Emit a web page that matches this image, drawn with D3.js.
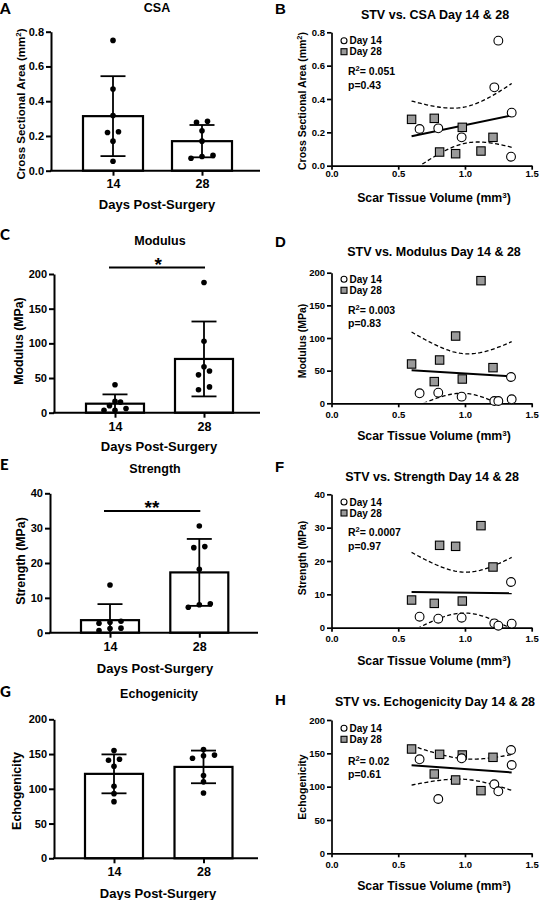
<!DOCTYPE html>
<html><head><meta charset="utf-8">
<script src="https://cdn.jsdelivr.net/npm/d3@7"></script>
<style>
body{margin:0;background:#fff;}
svg text{font-family:"Liberation Sans",Arial,sans-serif;font-weight:bold;fill:#000;}
</style></head><body>
<svg id="c" width="542" height="900"></svg>
<script>
// ---------------- DATA ----------------
const categories = ["14", "28"];
const stvDay14 = [0.66, 0.80, 0.975, 1.22, 1.25, 1.345, 1.35];
const stvDay28 = [0.60, 0.77, 0.81, 0.93, 0.98, 1.12, 1.21];
const csaDay14 = [0.22, 0.224, 0.17, 0.47, 0.75, 0.054, 0.318];
const csaDay28 = [0.278, 0.284, 0.082, 0.072, 0.23, 0.088, 0.17];
const modulusDay14 = [15.3, 16.3, 10.2, 3.5, 3.5, 40.3, 6.1];
const modulusDay28 = [60.2, 33.2, 66.3, 103, 37.2, 187.8, 54.6];
const strengthDay14 = [3.3, 2.7, 3.0, 1.3, 0.6, 13.7, 1.2];
const strengthDay28 = [8.3, 7.3, 24.7, 24.4, 8.0, 30.6, 18.2];
const echoDay14 = [141, 81.5, 142.5, 103.5, 93, 155, 132.5];
const echoDay28 = [156.5, 119, 148.5, 110, 147.5, 94, 144];
const csaMean = [0.314, 0.17], csaSD = [0.23, 0.093];
const modulusMean = [13, 77.5], modulusSD = [13.4, 54];
const strengthMean = [3.6, 17.3], strengthSD = [4.6, 9.6];
const echoMean = [121.5, 131.5], echoSD = [28, 23.5];
const csaTicks = [0, 0.2, 0.4, 0.6, 0.8];
const modulusTicks = [0, 50, 100, 150, 200];
const strengthTicks = [0, 10, 20, 30, 40];
const echoTicks = [0, 50, 100, 150, 200];
const stvTicks = [0, 0.5, 1.0, 1.5];
const r2Labels = ["0.051", "0.003", "0.0007", "0.02"];
const pLabels = ["0.43", "0.83", "0.97", "0.61"];
const legendLabels = ["Day 14", "Day 28"];
const sigLabels = ["*", "**"];
const T_CRIT = 2.179; // t(0.975, df=12)

// ---------------- DRAW ----------------
const svg = d3.select("#c");
const f1 = d3.format(".1f"), fd = d3.format("d");

function supText(sel, parts, supSize) {
  sel.append("tspan").text(parts[0]);
  sel.append("tspan").attr("dy", -4).style("font-size", supSize + "px").text(parts[1]);
  sel.append("tspan").attr("dy", 4).text(parts[2]);
}

function styleAxis(g, fs, sw) {
  g.selectAll("path,line").attr("stroke", "#000").attr("stroke-width", sw);
  g.selectAll("text").style("font-size", fs + "px").attr("fill", "#000");
}

function barPanel(o) {
  const g = svg.append("g");
  const y = d3.scaleLinear().domain([o.ticks[0], o.ticks[o.ticks.length - 1]]).range([o.yBot, o.yTop]);
  const x = d3.scalePoint().domain(categories).range(o.centers);

  g.selectAll("rect.bar").data(o.means).join("rect")
    .attr("x", (d, i) => x(categories[i]) - o.barW / 2)
    .attr("y", d => y(d)).attr("width", o.barW).attr("height", d => y(0) - y(d))
    .attr("fill", "#fff").attr("stroke", "#000").attr("stroke-width", 2.2);

  o.means.forEach((m, i) => {
    const cx = x(categories[i]);
    const top = m + o.sds[i], bot = m - o.sds[i];
    const yb = bot < 0 ? y(0) : y(bot);
    g.append("line").attr("x1", cx).attr("x2", cx).attr("y1", y(top)).attr("y2", yb)
      .attr("stroke", "#000").attr("stroke-width", 1.8);
    g.append("line").attr("x1", cx - 12.5).attr("x2", cx + 12.5).attr("y1", y(top)).attr("y2", y(top))
      .attr("stroke", "#000").attr("stroke-width", 1.8);
    if (bot >= 0) g.append("line").attr("x1", cx - 12.5).attr("x2", cx + 12.5).attr("y1", y(bot)).attr("y2", y(bot))
      .attr("stroke", "#000").attr("stroke-width", 1.8);
  });

  [o.d14, o.d28].forEach((vals, i) => {
    const cx = x(categories[i]);
    const pts = vals.map(v => ({ v, py: y(v) })).sort((a, b) => b.py - a.py);
    const rows = [];
    pts.forEach(p => {
      const r = rows[rows.length - 1];
      if (!r || Math.abs(p.py - r[0].py) >= 4) rows.push([p]); else r.push(p);
    });
    rows.forEach(r => r.forEach((p, k) => { p.px = cx + (k - (r.length - 1) / 2) * 11; }));
    g.selectAll(null).data(pts).join("circle")
      .attr("cx", d => d.px).attr("cy", d => d.py).attr("r", 2.8).attr("fill", "#000");
  });

  const ya = g.append("g").attr("transform", `translate(${o.axisX},0)`)
    .call(d3.axisLeft(y).tickValues(o.ticks).tickFormat(o.fmt).tickSize(5).tickSizeOuter(0).tickPadding(2));
  styleAxis(ya, 11, 2);
  const xa = g.append("g").attr("transform", `translate(0,${o.yBot})`)
    .call(d3.axisBottom(x).tickSize(5).tickPadding(3));
  xa.select(".domain").remove();
  styleAxis(xa, 12.5, 2);
  xa.selectAll("text").attr("y", null).attr("dy", null).attr("transform", `translate(0,${o.xTickY - o.yBot})`);
  g.append("line").attr("x1", o.axisX - 1).attr("x2", o.xEnd).attr("y1", o.yBot).attr("y2", o.yBot)
    .attr("stroke", "#000").attr("stroke-width", 2);

  if (o.sig != null) {
    g.append("line").attr("x1", x(categories[0]) - 6).attr("x2", x(categories[1]) + 1)
      .attr("y1", o.sigY).attr("y2", o.sigY).attr("stroke", "#000").attr("stroke-width", 2);
    g.append("text").attr("x", o.sigX).attr("y", o.sigY + 3).attr("text-anchor", "middle")
      .style("font-size", "19px").text(sigLabels[o.sig]);
  }

  g.append("text").attr("x", 0).attr("y", o.letterY).style("font-family", "Lato").style("font-weight", 900)
    .style("font-size", "15px").text(o.letter);
  g.append("text").attr("x", o.titleX).attr("y", o.titleY).attr("text-anchor", "middle")
    .style("font-size", "12.5px").text(o.title);
  g.append("text").attr("x", o.xTitleX).attr("y", o.xTitleY).attr("text-anchor", "middle")
    .style("font-size", "13px").text("Days Post-Surgery");
  const yt = g.append("text").attr("transform", `translate(${o.yTitleX},${o.yTitleY}) rotate(-90)`)
    .attr("text-anchor", "middle").style("font-size", o.yTitleSize + "px");
  if (o.yTitle.length === 3) supText(yt, o.yTitle, 8); else yt.text(o.yTitle[0]);
}

function scatterPanel(o) {
  const g = svg.append("g");
  const x = d3.scaleLinear().domain([0, 1.5]).range([o.axisX, 531.7]);
  const y = d3.scaleLinear().domain([o.ticks[0], o.ticks[o.ticks.length - 1]]).range([o.yBot, o.yTop]);
  const xs = stvDay14.concat(stvDay28), ys = o.y14.concat(o.y28);
  const n = xs.length, mx = d3.mean(xs), my = d3.mean(ys);
  const sxx = d3.sum(xs, v => (v - mx) ** 2);
  const sxy = d3.sum(xs, (v, i) => (v - mx) * (ys[i] - my));
  const b = sxy / sxx, a = my - b * mx;
  const s = Math.sqrt(d3.sum(xs, (v, i) => (ys[i] - (a + b * v)) ** 2) / (n - 2));
  const [xmin, xmax] = d3.extent(xs);
  const samp = d3.range(0, 61).map(k => xmin + (xmax - xmin) * k / 60);
  const band = (sign) => samp.map(v => [v, a + b * v + sign * T_CRIT * s * Math.sqrt(1 / n + (v - mx) ** 2 / sxx)]);

  const cid = "clip" + o.letter;
  svg.append("clipPath").attr("id", cid).append("rect")
    .attr("x", o.axisX).attr("y", o.yTop - 2).attr("width", 220).attr("height", o.yBot - o.yTop + 1);
  const line = d3.line().x(d => x(d[0])).y(d => y(d[1]));
  const cg = g.append("g").attr("clip-path", `url(#${cid})`);
  [-1, 1].forEach(sg => cg.append("path").attr("d", line(band(sg))).attr("fill", "none")
    .attr("stroke", "#000").attr("stroke-width", 1.3).attr("stroke-dasharray", "4,2.5"));
  cg.append("path").attr("d", line([[xmin, a + b * xmin], [xmax, a + b * xmax]])).attr("fill", "none")
    .attr("stroke", "#000").attr("stroke-width", 2);

  const ya = g.append("g").attr("transform", `translate(${o.axisX},0)`)
    .call(d3.axisLeft(y).tickValues(o.ticks).tickFormat(o.fmt).tickSize(4.5).tickSizeOuter(0).tickPadding(2));
  styleAxis(ya, 9.5, 1.7);
  const xa = g.append("g").attr("transform", `translate(0,${o.yBot})`)
    .call(d3.axisBottom(x).tickValues(stvTicks).tickFormat(f1).tickSize(4).tickSizeOuter(0).tickPadding(3));
  styleAxis(xa, 9.5, 1.7);
  xa.selectAll(".tick text").attr("y", null).attr("dy", null).attr("transform", `translate(0,${o.xTickY - o.yBot})`);

  g.selectAll(null).data(o.y28).join("rect")
    .attr("x", (d, i) => x(stvDay28[i]) - 4.2).attr("y", d => y(d) - 4.2).attr("width", 8.4).attr("height", 8.4)
    .attr("fill", "#9a9a9a").attr("stroke", "#000").attr("stroke-width", 1.1);
  g.selectAll(null).data(o.y14).join("circle")
    .attr("cx", (d, i) => x(stvDay14[i])).attr("cy", d => y(d)).attr("r", 4.4)
    .attr("fill", "#fff").attr("stroke", "#000").attr("stroke-width", 1.1);

  const lx = o.axisX + 12.5;
  g.append("circle").attr("cx", lx).attr("cy", o.legendY).attr("r", 3).attr("fill", "#fff")
    .attr("stroke", "#000").attr("stroke-width", 1.1);
  g.append("rect").attr("x", lx - 3).attr("y", o.legendY + 11 - 3).attr("width", 6).attr("height", 6)
    .attr("fill", "#9a9a9a").attr("stroke", "#000").attr("stroke-width", 1.1);
  legendLabels.forEach((t, i) => g.append("text").attr("x", lx + 5.5).attr("y", o.legendY + 3.7 + i * 11)
    .style("font-size", "10px").text(t));
  const r2 = g.append("text").attr("x", lx + 4).attr("y", o.r2Y).style("font-size", "10.5px");
  supText(r2, ["R", "2", "= " + r2Labels[o.idx]], 7.5);
  g.append("text").attr("x", lx + 4).attr("y", o.pY).style("font-size", "10.5px").text("p=" + pLabels[o.idx]);

  g.append("text").attr("x", 275).attr("y", o.letterY).style("font-size", "15px").text(o.letter);
  g.append("text").attr("x", o.titleX).attr("y", o.titleY).attr("text-anchor", "middle")
    .style("font-size", "12.5px").text(o.title);
  const xt = g.append("text").attr("x", 434).attr("y", o.xTitleY).attr("text-anchor", "middle").style("font-size", "12.3px");
  supText(xt, ["Scar Tissue Volume (mm", "3", ")"], 8);
  const yt = g.append("text").attr("transform", `translate(305.5,${o.yTitleY}) rotate(-90)`)
    .attr("text-anchor", "middle").style("font-size", "10.5px");
  if (o.yTitle.length === 3) supText(yt, o.yTitle, 7.5); else yt.text(o.yTitle[0]);
}

barPanel({ letter: "A", letterY: 13.5, title: "CSA", titleX: 157, titleY: 11.5, axisX: 51, xEnd: 260,
  yTop: 31.7, yBot: 170.7, centers: [113, 202], barW: 60, ticks: csaTicks, fmt: f1,
  means: csaMean, sds: csaSD, d14: csaDay14, d28: csaDay28, xTickY: 188, xTitleX: 157, xTitleY: 208.5,
  yTitle: ["Cross Sectional Area (mm", "2", ")"], yTitleX: 25, yTitleY: 104, yTitleSize: 11.5, sig: null });
barPanel({ letter: "C", letterY: 240, title: "Modulus", titleX: 160, titleY: 244.5, axisX: 54, xEnd: 260,
  yTop: 274, yBot: 412.7, centers: [115, 204], barW: 58, ticks: modulusTicks, fmt: fd,
  means: modulusMean, sds: modulusSD, d14: modulusDay14, d28: modulusDay28, xTickY: 431, xTitleX: 159, xTitleY: 450.7,
  yTitle: ["Modulus (MPa)"], yTitleX: 22.5, yTitleY: 341, yTitleSize: 12.3, sig: 0, sigY: 267.5, sigX: 158.3 });
barPanel({ letter: "E", letterY: 470, title: "Strength", titleX: 155, titleY: 472.5, axisX: 50, xEnd: 258,
  yTop: 493.3, yBot: 632.7, centers: [110, 199.3], barW: 58, ticks: strengthTicks, fmt: fd,
  means: strengthMean, sds: strengthSD, d14: strengthDay14, d28: strengthDay28, xTickY: 651, xTitleX: 155, xTitleY: 673,
  yTitle: ["Strength (MPa)"], yTitleX: 24.5, yTitleY: 561, yTitleSize: 12.3, sig: 1, sigY: 511, sigX: 152 });
barPanel({ letter: "G", letterY: 697, title: "Echogenicity", titleX: 159, titleY: 697.5, axisX: 54, xEnd: 258,
  yTop: 719.3, yBot: 858.3, centers: [114, 203.5], barW: 58, ticks: echoTicks, fmt: fd,
  means: echoMean, sds: echoSD, d14: echoDay14, d28: echoDay28, xTickY: 876, xTitleX: 158, xTitleY: 897.7,
  yTitle: ["Echogenicity"], yTitleX: 21, yTitleY: 791, yTitleSize: 12.5, sig: null });

scatterPanel({ idx: 0, letter: "B", letterY: 13.5, title: "STV vs. CSA Day 14 & 28", titleX: 435, titleY: 18.5,
  axisX: 331.5, yTop: 32.3, yBot: 165.7, ticks: csaTicks, fmt: f1, y14: csaDay14, y28: csaDay28,
  xTickY: 176.5, xTitleY: 201.5, yTitle: ["Cross Sectional Area (mm", "2", ")"], yTitleY: 101,
  legendY: 40.7, r2Y: 74.5, pY: 88.8 });
scatterPanel({ idx: 1, letter: "D", letterY: 246.7, title: "STV vs. Modulus Day 14 & 28", titleX: 434, titleY: 255.5,
  axisX: 331.5, yTop: 272.7, yBot: 403.3, ticks: modulusTicks, fmt: fd, y14: modulusDay14, y28: modulusDay28,
  xTickY: 418, xTitleY: 440, yTitle: ["Modulus (MPa)"], yTitleY: 341,
  legendY: 279.3, r2Y: 313.8, pY: 327 });
scatterPanel({ idx: 2, letter: "F", letterY: 471.7, title: "STV vs. Strength Day 14 & 28", titleX: 432, titleY: 481,
  axisX: 331.5, yTop: 494.3, yBot: 627.7, ticks: strengthTicks, fmt: fd, y14: strengthDay14, y28: strengthDay28,
  xTickY: 642, xTitleY: 664.5, yTitle: ["Strength (MPa)"], yTitleY: 558,
  legendY: 502, r2Y: 536, pY: 550 });
scatterPanel({ idx: 3, letter: "H", letterY: 704.7, title: "STV vs. Echogenicity Day 14 & 28", titleX: 435, titleY: 705.5,
  axisX: 331.5, yTop: 720, yBot: 853.3, ticks: echoTicks, fmt: fd, y14: echoDay14, y28: echoDay28,
  xTickY: 867.5, xTitleY: 890, yTitle: ["Echogenicity"], yTitleY: 787,
  legendY: 728.3, r2Y: 765, pY: 778 });
</script>
</body></html>
